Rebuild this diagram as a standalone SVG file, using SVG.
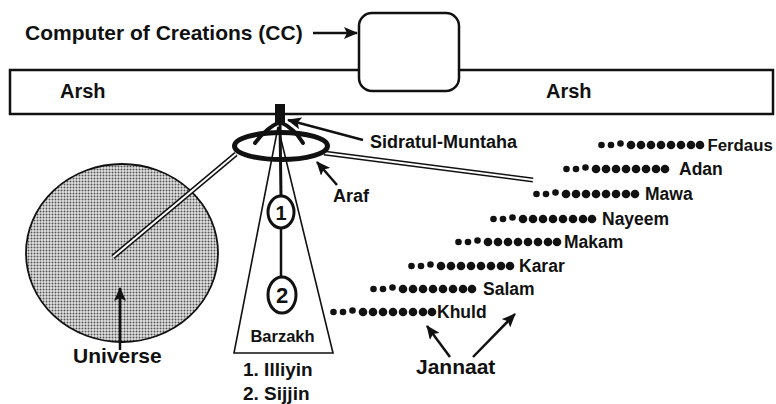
<svg xmlns="http://www.w3.org/2000/svg" width="776" height="404" viewBox="0 0 776 404">
<style>
  text { font-family: "Liberation Sans", Arial, sans-serif; font-weight: bold; fill: #111; }
  .ln { stroke: #111; fill: none; }
  .dbl-o { stroke: #111; stroke-width: 5; fill: none; }
  .dbl-i { stroke: #fff; stroke-width: 2; fill: none; }
  .lbl { font-size: 17.5px; }
</style>
<defs>
  <marker id="arr" markerUnits="userSpaceOnUse" markerWidth="14" markerHeight="12" viewBox="0 0 14 12" refX="13" refY="6" orient="auto">
    <path d="M0,0 L14,6 L0,12 L3,6 Z" fill="#111"/>
  </marker>
  <pattern id="dotpat" patternUnits="userSpaceOnUse" width="3" height="3">
    <rect width="3" height="3" fill="#e2e2e2"/>
    <circle cx="1.5" cy="1.5" r="1" fill="#555"/>
  </pattern>
  <g id="dots">
    <circle cx="3.5" cy="0" r="3.3"/>
    <circle cx="13" cy="0" r="3.3"/>
    <circle cx="22.5" cy="-1.5" r="3.3"/>
    <circle cx="33" cy="0" r="4.3"/>
    <circle cx="43" cy="0" r="4.3"/>
    <circle cx="53" cy="0" r="4.3"/>
    <circle cx="63" cy="0" r="4.3"/>
    <circle cx="73" cy="0" r="4.3"/>
    <circle cx="83" cy="0" r="4.3"/>
    <circle cx="93" cy="0" r="4.3"/>
    <circle cx="102" cy="0" r="4.3"/>
  </g>
</defs>
<rect width="776" height="404" fill="#fff"/>

<g id="arsh">
  <rect x="10" y="70" width="763" height="44" fill="#fff" stroke="#111" stroke-width="2.5"/>
  <text x="60" y="98" font-size="20">Arsh</text>
  <text x="546" y="98" font-size="20">Arsh</text>
</g>

<g id="cc">
  <rect x="359" y="13" width="100" height="78" rx="13" ry="13" fill="#fff" stroke="#111" stroke-width="2.5"/>
  <text x="25" y="40" font-size="21">Computer of Creations (CC)</text>
</g>

<g id="barzakh">
  <polygon points="278,127 234,353 333,353" fill="#fff" stroke="#111" stroke-width="1.6"/>
  <text x="282.5" y="342" font-size="16.5" text-anchor="middle">Barzakh</text>
  <text x="243" y="376" font-size="19">1. Illiyin</text>
  <text x="243" y="400" font-size="19">2. Sijjin</text>
</g>

<g id="universe">
  <ellipse cx="122" cy="253" rx="96" ry="89" fill="url(#dotpat)" stroke="#111" stroke-width="1.8"/>
  <text x="73" y="363" font-size="21">Universe</text>
</g>

<g id="connectors">
  <line x1="313" y1="33" x2="357" y2="33" class="ln" stroke-width="2.5" marker-end="url(#arr)"/>
  <line x1="113" y1="257" x2="236" y2="154" class="dbl-o"/>
  <line x1="113" y1="257" x2="236" y2="154" class="dbl-i"/>
  <line x1="324" y1="153" x2="533" y2="180" class="dbl-o"/>
  <line x1="324" y1="153" x2="533" y2="180" class="dbl-i"/>
  <line x1="280" y1="122" x2="281" y2="197" class="ln" stroke-width="3"/>
  <line x1="281" y1="228" x2="281" y2="277" class="ln" stroke-width="2.5"/>
  <line x1="363" y1="140" x2="288" y2="120" class="ln" stroke-width="2.5" marker-end="url(#arr)"/>
  <line x1="337" y1="185" x2="317" y2="162" class="ln" stroke-width="2.5" marker-end="url(#arr)"/>
  <line x1="120" y1="350" x2="120" y2="288" class="ln" stroke-width="2.5" marker-end="url(#arr)"/>
  <line x1="450" y1="357" x2="427" y2="326" class="ln" stroke-width="2.5" marker-end="url(#arr)"/>
  <line x1="473" y1="357" x2="515" y2="314" class="ln" stroke-width="2.5" marker-end="url(#arr)"/>
</g>

<g id="araf">
  <ellipse cx="281" cy="146" rx="46.5" ry="13.5" fill="none" stroke="#111" stroke-width="5"/>
  <text x="333" y="202" font-size="18">Araf</text>
</g>

<g id="sidratul-muntaha">
  <rect x="275" y="104" width="10" height="20" fill="#111"/>
  <path d="M280,122 Q266,128 255,143" class="ln" stroke-width="4" stroke-linecap="round"/>
  <path d="M280,122 Q294,128 303,143" class="ln" stroke-width="4" stroke-linecap="round"/>
  <text x="370" y="148" font-size="18">Sidratul-Muntaha</text>
</g>

<g id="node-1">
  <ellipse cx="281" cy="212" rx="13" ry="16" fill="#fff" stroke="#111" stroke-width="3"/>
  <text x="281" y="219.5" font-size="20" text-anchor="middle">1</text>
</g>
<g id="node-2">
  <ellipse cx="282" cy="295" rx="14" ry="18" fill="#fff" stroke="#111" stroke-width="3"/>
  <text x="282" y="303" font-size="22" text-anchor="middle">2</text>
</g>

<g id="jannaat" fill="#111">
  <g id="ferdaus"><use href="#dots" x="598" y="145"/><text x="707.5" y="151" font-size="16.8">Ferdaus</text></g>
  <g id="adan"><use href="#dots" x="563" y="169"/><text class="lbl" x="679" y="175">Adan</text></g>
  <g id="mawa"><use href="#dots" x="533" y="194"/><text class="lbl" x="645" y="200">Mawa</text></g>
  <g id="nayeem"><use href="#dots" x="490" y="219"/><text class="lbl" x="602" y="225">Nayeem</text></g>
  <g id="makam"><use href="#dots" x="455" y="242"/><text class="lbl" x="564" y="248">Makam</text></g>
  <g id="karar"><use href="#dots" x="408" y="266"/><text class="lbl" x="519" y="272">Karar</text></g>
  <g id="salam"><use href="#dots" x="370" y="289"/><text class="lbl" x="483" y="295">Salam</text></g>
  <g id="khuld"><use href="#dots" x="330" y="312"/><text class="lbl" x="437" y="318">Khuld</text></g>
  <text x="416" y="374" font-size="21">Jannaat</text>
</g>
</svg>
